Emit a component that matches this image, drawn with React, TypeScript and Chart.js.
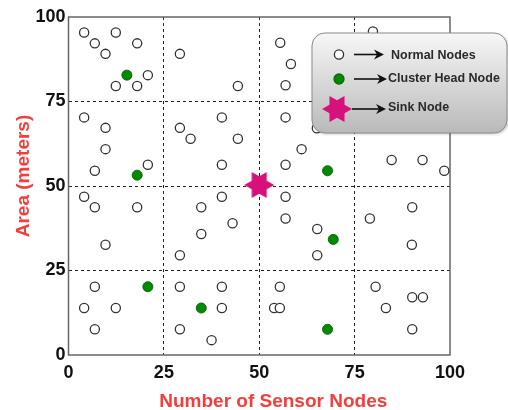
import React, { useEffect, useRef } from "react";
import { Chart, registerables } from "chart.js";

Chart.register(...registerables);

const xTitle = "Number of Sensor Nodes";
const yTitle = "Area (meters)";
const tickValues = [0, 25, 50, 75, 100];

const normalX = [
  4.1, 12.4, 6.9, 18.0, 9.7, 29.2, 20.8, 12.4, 18.0, 44.4, 4.1, 40.2, 9.7, 29.2, 32.0, 44.4, 9.7, 6.9, 20.8, 40.2,
  79.8, 55.5, 58.3, 56.9, 56.9, 65.1, 61.1, 56.9, 84.7, 92.8, 98.5,
  4.1, 6.9, 18.0, 40.2, 34.8, 43.0, 34.8, 9.7, 29.2, 6.9, 29.2, 40.2, 4.1, 12.4, 40.2, 6.9, 29.2, 37.5,
  56.9, 56.9, 65.2, 65.2, 79.0, 90.1, 90.0, 55.4, 53.9, 55.4, 80.5, 83.2, 90.1, 92.9, 90.1,
];
const normalY = [
  95.4, 95.4, 92.2, 92.2, 89.1, 89.1, 82.8, 79.6, 79.6, 79.6, 70.3, 70.3, 67.2, 67.2, 64.0, 64.0, 60.9, 54.5, 56.3, 56.3,
  95.7, 92.4, 86.1, 79.8, 70.3, 67.1, 60.9, 56.3, 57.7, 57.7, 54.5,
  46.8, 43.7, 43.7, 46.8, 43.7, 39.0, 35.8, 32.6, 29.5, 20.2, 20.2, 20.2, 13.9, 13.9, 13.9, 7.6, 7.6, 4.4,
  46.8, 40.4, 37.3, 29.5, 40.4, 43.7, 32.6, 20.2, 13.9, 13.9, 20.2, 13.9, 17.1, 17.1, 7.6,
];
const headX = [15.3, 18.0, 67.9, 20.8, 34.8, 69.4, 67.9];
const headY = [82.8, 53.2, 54.5, 20.2, 13.9, 34.2, 7.6];
const sinkX = [50];
const sinkY = [50.3];

const legendLabels = ["Normal Nodes", "Cluster Head Node", "Sink Node"];

const STAR_COLOR = "#d6117b";
const GREEN = "#008a00";
const FONT = '"Liberation Sans", Arial, sans-serif';

function starPath(ctx: CanvasRenderingContext2D, cx: number, cy: number, R: number) {
  const r = R * 0.58;
  ctx.beginPath();
  for (let i = 0; i < 12; i++) {
    const a = (i * Math.PI) / 6;
    const rad = i % 2 === 0 ? R : r;
    const x = cx + rad * Math.cos(a);
    const y = cy + rad * Math.sin(a);
    if (i === 0) ctx.moveTo(x, y);
    else ctx.lineTo(x, y);
  }
  ctx.closePath();
}

function makeStar(R: number): HTMLCanvasElement {
  const c = document.createElement("canvas");
  c.width = Math.ceil(R * 2 + 2);
  c.height = Math.ceil(R * 2 + 2);
  const g = c.getContext("2d")!;
  g.fillStyle = STAR_COLOR;
  starPath(g, c.width / 2, c.height / 2, R);
  g.fill();
  return c;
}

function arrow(ctx: CanvasRenderingContext2D, x1: number, x2: number, y: number) {
  ctx.strokeStyle = "#111";
  ctx.fillStyle = "#111";
  ctx.lineWidth = 1.6;
  ctx.beginPath();
  ctx.moveTo(x1, y);
  ctx.lineTo(x2 - 6, y);
  ctx.stroke();
  ctx.beginPath();
  ctx.moveTo(x2, y);
  ctx.lineTo(x2 - 10, y - 5);
  ctx.lineTo(x2 - 7, y);
  ctx.lineTo(x2 - 10, y + 5);
  ctx.closePath();
  ctx.fill();
}

const overlay = {
  id: "overlay",
  beforeDatasetsDraw(chart: any) {
    const { ctx, chartArea: a } = chart;
    ctx.save();
    ctx.strokeStyle = "#666";
    ctx.lineWidth = 1.5;
    ctx.strokeRect(a.left, a.top, a.right - a.left, a.bottom - a.top);
    ctx.restore();
  },
  afterDraw(chart: any) {
    const { ctx, chartArea: a } = chart;
    ctx.save();
    // axis titles
    ctx.fillStyle = "#f43d3d";
    ctx.font = `bold 19px ${FONT}`;
    ctx.textAlign = "center";
    ctx.textBaseline = "middle";
    ctx.fillText(xTitle, (a.left + a.right) / 2 + 14, a.bottom + 47);
    ctx.save();
    ctx.translate(24, (a.top + a.bottom) / 2 - 10);
    ctx.rotate(-Math.PI / 2);
    ctx.fillText(yTitle, 0, 0);
    ctx.restore();

    // legend box
    const bx = 312, by = 33, bw = 195, bh = 100;
    ctx.save();
    ctx.shadowColor = "rgba(0,0,0,0.25)";
    ctx.shadowBlur = 3;
    ctx.shadowOffsetX = 1;
    ctx.shadowOffsetY = 1;
    const grad = ctx.createLinearGradient(0, by, 0, by + bh);
    grad.addColorStop(0, "#f7f7f7");
    grad.addColorStop(1, "#b9b9b9");
    ctx.fillStyle = grad;
    ctx.beginPath();
    ctx.roundRect(bx, by, bw, bh, 13);
    ctx.fill();
    ctx.restore();
    ctx.strokeStyle = "#8c8c8c";
    ctx.lineWidth = 1;
    ctx.beginPath();
    ctx.roundRect(bx, by, bw, bh, 13);
    ctx.stroke();

    // items
    const rows = [54.5, 79, 109];
    ctx.lineWidth = 1.3;
    ctx.strokeStyle = "#333";
    ctx.fillStyle = "#fff";
    ctx.beginPath();
    ctx.arc(339, rows[0], 4.6, 0, Math.PI * 2);
    ctx.fill();
    ctx.stroke();
    ctx.fillStyle = GREEN;
    ctx.strokeStyle = "#0a6a0a";
    ctx.beginPath();
    ctx.arc(339, rows[1], 5, 0, Math.PI * 2);
    ctx.fill();
    ctx.stroke();
    ctx.fillStyle = STAR_COLOR;
    starPath(ctx, 337, rows[2], 15);
    ctx.fill();

    arrow(ctx, 354, 384, rows[0]);
    arrow(ctx, 354, 387, rows[1]);
    arrow(ctx, 352, 386, rows[2]);

    ctx.fillStyle = "#2a2a2a";
    ctx.font = `bold 12.5px ${FONT}`;
    ctx.textAlign = "left";
    ctx.textBaseline = "middle";
    ctx.fillText(legendLabels[0], 391, rows[0] + 1);
    ctx.fillText(legendLabels[1], 388, rows[1]);
    ctx.fillText(legendLabels[2], 388, rows[2] - 1);
    ctx.restore();
  },
};

export default function App() {
  const ref = useRef<HTMLCanvasElement>(null);
  useEffect(() => {
    if (!ref.current) return;
    const toPts = (xs: number[], ys: number[]) => xs.map((x, i) => ({ x, y: ys[i] }));
    const gridColor = (c: any) =>
      c.tick && (c.tick.value === tickValues[0] || c.tick.value === tickValues[tickValues.length - 1])
        ? "rgba(0,0,0,0)"
        : "#222";
    const chart = new Chart(ref.current, {
      type: "scatter",
      data: {
        datasets: [
          {
            label: legendLabels[2],
            data: toPts(sinkX, sinkY),
            pointStyle: makeStar(15) as any,
            pointRadius: 15,
          },
          {
            label: legendLabels[1],
            data: toPts(headX, headY),
            pointStyle: "circle",
            pointRadius: 5,
            backgroundColor: GREEN,
            borderColor: "#0a6a0a",
            borderWidth: 1,
          },
          {
            label: legendLabels[0],
            data: toPts(normalX, normalY),
            pointStyle: "circle",
            pointRadius: 4.6,
            backgroundColor: "#fff",
            borderColor: "#333",
            borderWidth: 1.3,
          },
        ],
      },
      options: {
        responsive: false,
        animation: false,
        devicePixelRatio: 1,
        layout: { padding: { top: 17, right: 58, left: 0, bottom: 0 } },
        plugins: { legend: { display: false }, tooltip: { enabled: false } },
        scales: {
          x: {
            type: "linear",
            min: 0,
            max: 100,
            afterBuildTicks: (s: any) => {
              s.ticks = tickValues.map((v) => ({ value: v }));
            },
            afterFit: (s: any) => {
              s.height = 55;
            },
            grid: { color: gridColor, lineWidth: 1, drawTicks: false },
            border: { display: false, dash: [3, 3] },
            ticks: {
              padding: 7,
              color: "#111",
              font: { family: FONT, size: 18, weight: "bold" },
            },
          },
          y: {
            type: "linear",
            min: 0,
            max: 100,
            afterBuildTicks: (s: any) => {
              s.ticks = tickValues.map((v) => ({ value: v }));
            },
            afterFit: (s: any) => {
              s.width = 68.5;
            },
            grid: { color: gridColor, lineWidth: 1, drawTicks: false },
            border: { display: false, dash: [3, 3] },
            ticks: {
              padding: 3,
              color: "#111",
              font: { family: FONT, size: 18, weight: "bold" },
            },
          },
        },
      },
      plugins: [overlay],
    });
    return () => chart.destroy();
  }, []);
  return (
    <div style={{ position: "absolute", left: 0, top: 0, width: 508, height: 410, background: "#fff" }}>
      <canvas ref={ref} width={508} height={410} style={{ width: 508, height: 410, display: "block" }} />
    </div>
  );
}
